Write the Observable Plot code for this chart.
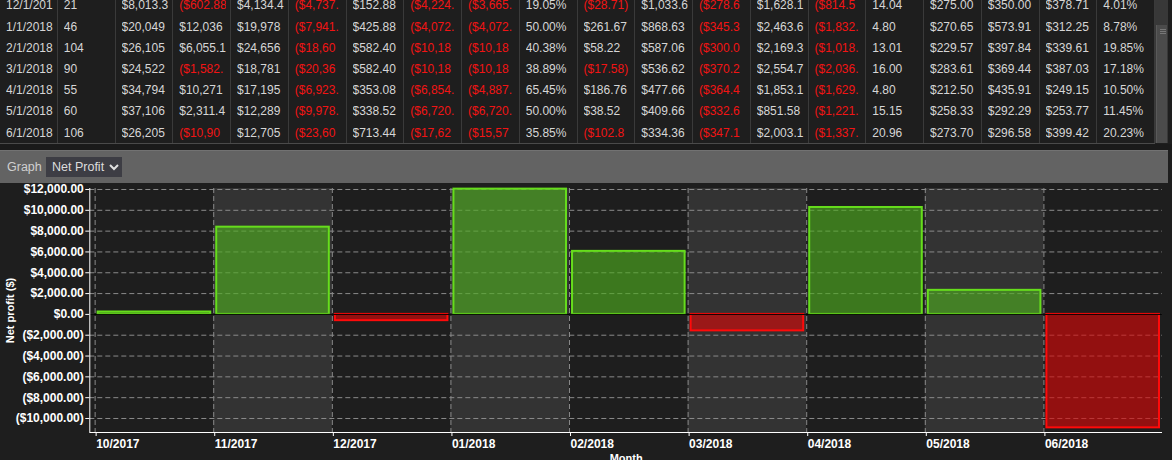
<!DOCTYPE html>
<html>
<head>
<meta charset="utf-8">
<script src="https://cdn.jsdelivr.net/npm/d3@7"></script>
<script src="https://cdn.jsdelivr.net/npm/@observablehq/plot@0.6"></script>
<style>
  html, body { margin:0; padding:0; background:#1e1e1e; }
  body { width:1172px; height:460px; overflow:hidden; position:relative; font-family:"Liberation Sans", Arial, sans-serif; }
  #table { position:absolute; left:0; top:0; width:1155px; height:143px; overflow:hidden; background:#1e1e1e; border-bottom:1px solid #4a4a4a; }
  .cell { position:absolute; box-sizing:border-box; height:21.2px; line-height:21.2px; padding:0 0 0 6px; }
  .cell span { display:block; width:47px; overflow:hidden; white-space:nowrap; font-size:12px; color:#d6d6d6; }
  .cell span.neg { color:#f21414; }
  .sep { position:absolute; top:0; width:1px; height:143px; background:#3a3a3a; }
  #scroll { position:absolute; left:1155px; top:0; width:13px; height:143px; background:#383838; }
  #thumb { position:absolute; left:1px; top:25px; width:11px; height:118px; background:#4b4b4b; border-left:1px solid #5a5a5a; box-sizing:border-box; }
  #thumb i { position:absolute; left:3px; width:6px; height:1px; background:#777; }
  #gap { position:absolute; left:0; top:144px; width:1172px; height:6px; background:#1a1a1a; }
  #toolbar { position:absolute; left:0; top:150px; width:1168px; height:33px; background:#636363; border-top:1px solid #727272; box-sizing:border-box; }
  #toolbar .lbl { position:absolute; left:7px; top:9px; font-size:12.5px; color:#d0d0d0; }
  #dd { position:absolute; left:46px; top:6px; width:76px; height:20px; background:#3d3d44; }
  #dd span { position:absolute; left:6px; top:3px; font-size:12.5px; color:#dcdcdc; }
  #dd svg { position:absolute; left:63px; top:7px; }
  #chart { position:absolute; left:0; top:184px; }
</style>
</head>
<body>
<div id="table"></div>
<div id="scroll"><div id="thumb"><i style="top:4px"></i><i style="top:6px"></i><i style="top:8px"></i></div></div>
<div id="gap"></div>
<div id="toolbar">
  <div class="lbl">Graph</div>
  <div id="dd"><span>Net Profit</span><svg width="10" height="7"><path d="M1 1 L5 5 L9 1" fill="none" stroke="#e0e0e0" stroke-width="2"/></svg></div>
</div>
<div id="chart"></div>
<script>
// ---- table rows (text as visible in the clipped grid columns) ----
const tableRows = [
  ["12/1/201","21","$8,013.3","($602.88","$4,134.4","($4,737.","$152.88","($4,224.","($3,665.","19.05%","($28.71)","$1,033.6","($278.6","$1,628.1","($814.5","14.04","$275.00","$350.00","$378.71","4.01%"],
  ["1/1/2018","46","$20,049","$12,036","$19,978","($7,941.","$425.88","($4,072.","($4,072.","50.00%","$261.67","$868.63","($345.3","$2,463.6","($1,832.","4.80","$270.65","$573.91","$312.25","8.78%"],
  ["2/1/2018","104","$26,105","$6,055.1","$24,656","($18,60","$582.40","($10,18","($10,18","40.38%","$58.22","$587.06","($300.0","$2,169.3","($1,018.","13.01","$229.57","$397.84","$339.61","19.85%"],
  ["3/1/2018","90","$24,522","($1,582.","$18,781","($20,36","$582.40","($10,18","($10,18","38.89%","($17.58)","$536.62","($370.2","$2,554.7","($2,036.","16.00","$283.61","$369.44","$387.03","17.18%"],
  ["4/1/2018","55","$34,794","$10,271","$17,195","($6,923.","$353.08","($6,854.","($4,887.","65.45%","$186.76","$477.66","($364.4","$1,853.1","($1,629.","4.80","$212.50","$435.91","$249.15","10.50%"],
  ["5/1/2018","60","$37,106","$2,311.4","$12,289","($9,978.","$338.52","($6,720.","($6,720.","50.00%","$38.52","$409.66","($332.6","$851.58","($1,221.","15.15","$258.33","$292.29","$253.77","11.45%"],
  ["6/1/2018","106","$26,205","($10,90","$12,705","($23,60","$713.44","($17,62","($15,57","35.85%","($102.8","$334.36","($347.1","$2,003.1","($1,337.","20.96","$273.70","$296.58","$399.42","20.23%"]
];

// ---- chart data ----
const months = ["10/2017","11/2017","12/2017","01/2018","02/2018","03/2018","04/2018","05/2018","06/2018"];
const netProfit = [230, 8380, -602.88, 12036, 6055.1, -1582, 10271, 2311.4, -10900];
const yTicks = [-10000, -8000, -6000, -4000, -2000, 0, 2000, 4000, 6000, 8000, 10000, 12000];

// build table
const colW = 57.75, rowH = 21.2, rowTop = -4.6;
const table = document.getElementById("table");
tableRows.forEach((row, r) => {
  row.forEach((txt, c) => {
    const d = document.createElement("div");
    d.className = "cell";
    d.style.left = (c * colW) + "px";
    d.style.top = (rowTop + r * rowH) + "px";
    d.style.width = colW + "px";
    const s = document.createElement("span");
    if (txt.startsWith("(")) s.className = "neg";
    s.textContent = txt;
    d.appendChild(s);
    table.appendChild(d);
  });
});
for (let c = 1; c <= tableRows[0].length; c++) {
  const s = document.createElement("div");
  s.className = "sep";
  s.style.left = (c * colW - 1) + "px";
  table.appendChild(s);
}

// chart
const data = months.map((m, i) => ({i, month: m, value: netProfit[i]}));
const xDomain = [-0.045, 9];
const yDomain = [-11346, 12095];
const fmt = v => v < 0 ? "(" + "$" + d3.format(",.2f")(-v) + ")" : "$" + d3.format(",.2f")(v);
const grid = {stroke: "#8a8a8a", strokeOpacity: 1, strokeDasharray: "5,3"};

const plot = Plot.plot({
  width: 1172,
  height: 290,
  marginLeft: 89.3,
  marginRight: 10,
  marginTop: 4,
  marginBottom: 42,
  x: {domain: xDomain, axis: null},
  y: {domain: yDomain, axis: null},
  style: {background: "transparent", color: "#ffffff", fontFamily: "'Liberation Sans', Arial, sans-serif", overflow: "visible"},
  marks: [
    Plot.rect(data.filter(d => d.i % 2 === 1), {x1: "i", x2: d => d.i + 1, fill: "#333333"}),
    Plot.gridY(yTicks, grid),
    Plot.gridX(data.map(d => d.i), grid),
    Plot.rect(data.filter(d => d.value >= 0), {x1: "i", x2: d => d.i + 1, y1: 0, y2: "value", insetLeft: 3, insetRight: 3,
      fill: "rgb(78,172,32)", fillOpacity: 0.64, stroke: "#66dd1c", strokeWidth: 2}),
    Plot.rect(data.filter(d => d.value < 0), {x1: "i", x2: d => d.i + 1, y1: 0, y2: "value", insetLeft: 3, insetRight: 3,
      fill: "rgb(215,10,10)", fillOpacity: 0.64, stroke: "#ff0a0a", strokeWidth: 2}),
    Plot.ruleY([0], {stroke: "#000000"}),
    Plot.ruleX([xDomain[0]], {stroke: "#ffffff"}),
    Plot.ruleY([yDomain[0]], {stroke: "#ffffff"}),
    Plot.axisY(yTicks, {tickSize: 4, tickPadding: 2, tickFormat: fmt, fontSize: 12, fontWeight: "bold", label: null}),
    Plot.axisX(data.map(d => d.i), {tickSize: 4, tickPadding: 3, tickFormat: i => months[i], textAnchor: "start", dx: 1, fontSize: 12, fontWeight: "bold", label: null}),
    Plot.text(["Month"], {text: d => d, frameAnchor: "bottom", dy: 29, fontSize: 11, fontWeight: "bold", fill: "#ffffff"}),
    Plot.text(["Net profit ($)"], {text: d => d, frameAnchor: "left", dx: -79, rotate: -90, textAnchor: "middle", fontSize: 11, fontWeight: "bold", fill: "#ffffff"})
  ]
});
document.getElementById("chart").appendChild(plot);
</script>
</body>
</html>
